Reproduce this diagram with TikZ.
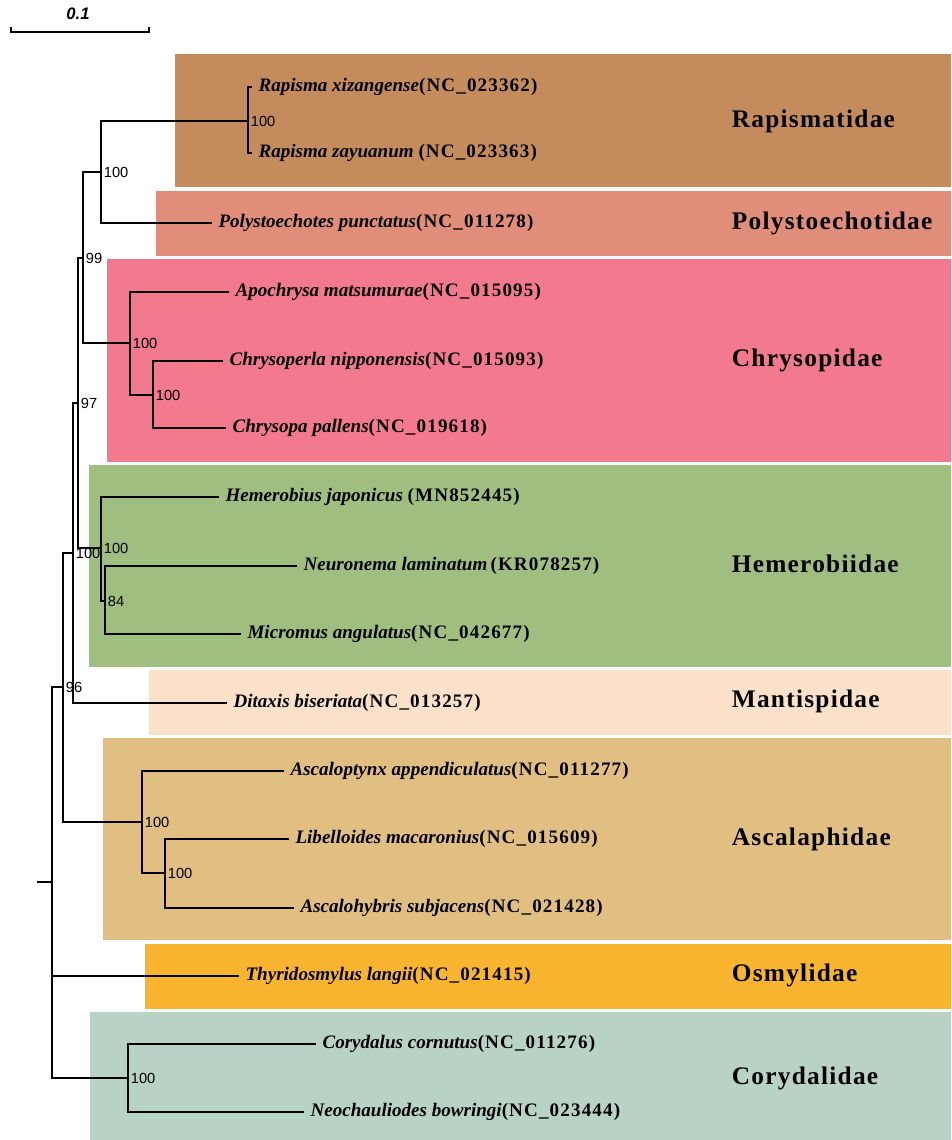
\documentclass[tikz,border=0pt]{standalone}
\usepackage{fontspec}
\setmainfont{Liberation Serif}
\newfontfamily\bootfont{Liberation Sans}
\newfontfamily\accfont[LetterSpace=6]{Liberation Serif}
\newfontfamily\famfont[LetterSpace=5]{Liberation Serif}

\definecolor{rapCol}{RGB}{196,140,92}
\definecolor{polCol}{RGB}{224,142,122}
\definecolor{chrCol}{RGB}{242,121,142}
\definecolor{hemCol}{RGB}{160,190,128}
\definecolor{manCol}{RGB}{252,225,202}
\definecolor{ascCol}{RGB}{225,191,130}
\definecolor{osmCol}{RGB}{249,180,48}
\definecolor{corCol}{RGB}{185,210,198}

\tikzset{every picture/.style={line width=1.3pt}}
\tikzset{
  tip/.style={anchor=west, inner xsep=5pt, inner ysep=0pt, font=\fontsize{14.3}{16}\selectfont\bfseries\itshape},
  boot/.style={anchor=west, inner sep=1.5pt, font=\bootfont\fontsize{11}{12}\selectfont},
  fam/.style={anchor=west, inner sep=0pt, font=\famfont\fontsize{19}{22}\selectfont\bfseries},
  branch/.style={draw=black, line cap=rect}
}
\newcommand{\acc}[1]{{\upshape\accfont\bfseries #1}}

\begin{document}
\begin{tikzpicture}[x=0.75pt,y=0.75pt,yscale=-1,xscale=1]
	\useasboundingbox (0,0) rectangle (951,1140);

	%Shape: Rectangle [family boxes]
	\fill [rapCol] (175,54) rectangle (951,187);
	\fill [polCol] (156,191) rectangle (951,256);
	\fill [chrCol] (107,259) rectangle (951,462);
	\fill [hemCol] (89,465) rectangle (951,667);
	\fill [manCol] (149,670) rectangle (951,735);
	\fill [ascCol] (103,738) rectangle (951,940);
	\fill [osmCol] (145,944) rectangle (951,1009);
	\fill [corCol] (90,1012) rectangle (951,1140);

	%Scale bar
	\coordinate (sbL) at (11,27);
	\coordinate (sbR) at (149,27);
	\draw [line width=1.1pt] (sbL) -- ++(0,5) -| (sbR);
	% Text Node
	\node [font=\bootfont\fontsize{12.5}{14}\selectfont\bfseries\itshape] (sbLab) at (78,14) {0.1};

	%Internal nodes
	\coordinate (root) at (52,882);
	\coordinate (rootStub) at (38,882);
	\coordinate (n96) at (63,687);
	\coordinate (nA) at (73,553);
	\coordinate (n97) at (78,403);
	\coordinate (n99) at (83,258);
	\coordinate (nR) at (101,172);
	\coordinate (nRap) at (248,121);
	\coordinate (nChr) at (130,343);
	\coordinate (nChr2) at (153,395);
	\coordinate (nHem) at (101,548);
	\coordinate (n84) at (105,601);
	\coordinate (nAsc) at (142,822);
	\coordinate (nAsc2) at (165,873);
	\coordinate (nCor) at (128,1078);

	% Text Node [tips]
	\node [tip] (tRapX) at (251,87) {Rapisma xizangense\acc{(NC\_023362)}};
	\node [tip] (tRapZ) at (251,153) {Rapisma zayuanum \acc{(NC\_023363)}};
	\node [tip] (tPol) at (211,223) {Polystoechotes punctatus\acc{(NC\_011278)}};
	\node [tip] (tApo) at (228,292) {Apochrysa matsumurae\acc{(NC\_015095)}};
	\node [tip] (tChrN) at (222,361) {Chrysoperla nipponensis\acc{(NC\_015093)}};
	\node [tip] (tChrP) at (225,428) {Chrysopa pallens\acc{(NC\_019618)}};
	\node [tip] (tHem) at (218,497) {Hemerobius japonicus \acc{(MN852445)}};
	\node [tip] (tNeu) at (296,566) {Neuronema laminatum\,\acc{(KR078257)}};
	\node [tip] (tMic) at (240,634) {Micromus angulatus\acc{(NC\_042677)}};
	\node [tip] (tDit) at (226,703) {Ditaxis biseriata\acc{(NC\_013257)}};
	\node [tip] (tAscA) at (283,771) {Ascaloptynx appendiculatus\acc{(NC\_011277)}};
	\node [tip] (tLib) at (288,839) {Libelloides macaronius\acc{(NC\_015609)}};
	\node [tip] (tAscS) at (293,908) {Ascalohybris subjacens\acc{(NC\_021428)}};
	\node [tip] (tThy) at (238,976) {Thyridosmylus langii\acc{(NC\_021415)}};
	\node [tip] (tCorC) at (315,1044) {Corydalus cornutus\acc{(NC\_011276)}};
	\node [tip] (tNeo) at (303,1112) {Neochauliodes bowringi\acc{(NC\_023444)}};

	%Straight Lines [branches]
	\draw [branch] (rootStub) -- (root);
	\draw [branch] (root) |- (n96);
	\draw [branch] (root) |- (tThy.west);
	\draw [branch] (root) |- (nCor);
	\draw [branch] (n96) |- (nA);
	\draw [branch] (n96) |- (nAsc);
	\draw [branch] (nA) |- (n97);
	\draw [branch] (nA) |- (tDit.west);
	\draw [branch] (n97) |- (n99);
	\draw [branch] (n97) |- (nHem);
	\draw [branch] (n99) |- (nR);
	\draw [branch] (n99) |- (nChr);
	\draw [branch] (nR) |- (nRap);
	\draw [branch] (nR) |- (tPol.west);
	\draw [branch] (nRap) |- (tRapX.west);
	\draw [branch] (nRap) |- (tRapZ.west);
	\draw [branch] (nChr) |- (tApo.west);
	\draw [branch] (nChr) |- (nChr2);
	\draw [branch] (nChr2) |- (tChrN.west);
	\draw [branch] (nChr2) |- (tChrP.west);
	\draw [branch] (nHem) |- (tHem.west);
	\draw [branch] (nHem) |- (n84);
	\draw [branch] (n84) |- (tNeu.west);
	\draw [branch] (n84) |- (tMic.west);
	\draw [branch] (nAsc) |- (tAscA.west);
	\draw [branch] (nAsc) |- (nAsc2);
	\draw [branch] (nAsc2) |- (tLib.west);
	\draw [branch] (nAsc2) |- (tAscS.west);
	\draw [branch] (nCor) |- (tCorC.west);
	\draw [branch] (nCor) |- (tNeo.west);

	% Text Node [bootstrap]
	\node [boot] (bRap) at (nRap) {100};
	\node [boot] (bR) at (nR) {100};
	\node [boot] (b99) at (n99) {99};
	\node [boot] (bChr) at (nChr) {100};
	\node [boot] (bChr2) at (nChr2) {100};
	\node [boot] (b97) at (n97) {97};
	\node [boot] (bA) at (nA) {100};
	\node [boot] (bHem) at (nHem) {100};
	\node [boot] (b84) at (n84) {84};
	\node [boot] (b96) at (n96) {96};
	\node [boot] (bAsc) at (nAsc) {100};
	\node [boot] (bAsc2) at (nAsc2) {100};
	\node [boot] (bCor) at (nCor) {100};

	% Text Node [families]
	\node [fam] (fRap) at (731,121) {Rapismatidae};
	\node [fam] (fPol) at (731,223) {Polystoechotidae};
	\node [fam] (fChr) at (731,360) {Chrysopidae};
	\node [fam] (fHem) at (731,564) {Hemerobiidae};
	\node [fam] (fMan) at (731,701) {Mantispidae};
	\node [fam] (fAsc) at (731,839) {Ascalaphidae};
	\node [fam] (fOsm) at (731,975) {Osmylidae};
	\node [fam] (fCor) at (731,1078) {Corydalidae};

\end{tikzpicture}
\end{document}
